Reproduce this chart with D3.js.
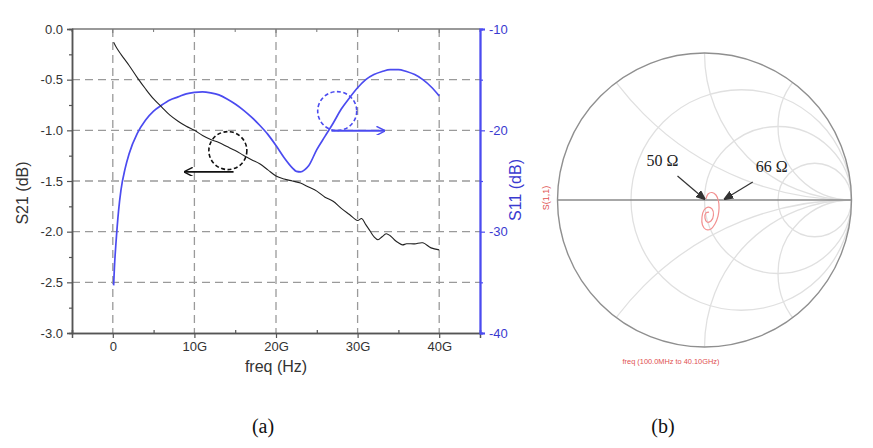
<!DOCTYPE html>
<html><head><meta charset="utf-8">
<script src="https://cdn.jsdelivr.net/npm/d3@7"></script>
<style>html,body{margin:0;padding:0;background:#fff;}svg{display:block;}</style>
</head><body>
<svg id="c" width="873" height="448"></svg>
<script>
// ---------- data ----------
const freqS21 = [0.1,0.5,1,2,3,4,5,6,7,8,9,10,11,12,13,14,15,16,17,18,19,20,21,22,23,24,25,26,27,28,29,30,30.5,31,31.5,32,32.5,33,33.5,34,34.5,35,35.5,36,37,38,39,40];
const s21dB  = [-0.13,-0.19,-0.25,-0.36,-0.48,-0.59,-0.69,-0.77,-0.85,-0.91,-0.96,-1.00,-1.05,-1.09,-1.12,-1.16,-1.20,-1.245,-1.29,-1.33,-1.39,-1.45,-1.48,-1.50,-1.52,-1.56,-1.60,-1.66,-1.70,-1.77,-1.83,-1.89,-1.87,-1.93,-1.99,-2.05,-2.08,-2.05,-2.02,-2.04,-2.08,-2.11,-2.13,-2.12,-2.12,-2.11,-2.16,-2.18];
const freqS11 = [0.1,0.2,0.4,0.7,1,1.5,2,3,4,5,6,7,8,9,10,11,12,13,14,15,16,17,18,19,20,21,22,22.5,23,23.5,24,25,26,27,28,29,30,31,32,33,34,35,36,37,38,39,40];
const s11dB  = [-35.3,-33.5,-31.0,-28.0,-25.9,-23.8,-22.3,-20.3,-19.0,-18.1,-17.5,-17.0,-16.7,-16.4,-16.25,-16.2,-16.3,-16.5,-16.9,-17.4,-18.0,-18.7,-19.5,-20.4,-21.5,-22.7,-23.7,-24.05,-24.1,-23.9,-23.5,-21.9,-20.6,-19.3,-17.9,-16.8,-15.8,-15.0,-14.5,-14.2,-14.0,-14.0,-14.2,-14.5,-15.0,-15.7,-16.6];
const xTicks = [0,10,20,30,40];
const xTickLabels = ["0","10G","20G","30G","40G"];
const yLeftTicks = [0,-0.5,-1,-1.5,-2,-2.5,-3];
const yRightTicks = [-10,-20,-30,-40];
// Smith chart trace of S(1,1) (reflection coefficient, real / imaginary)
const gammaRe = [0.010,0.024,0.051,0.078,0.095,0.099,0.092,0.071,0.044,0.010,-0.014,-0.017,-0.003,0.024,0.051,0.061,0.044,0.017,0.003,0.010,0.031];
const gammaIm = [0.007,0.041,0.051,0.034,-0.007,-0.054,-0.109,-0.163,-0.197,-0.201,-0.170,-0.116,-0.068,-0.048,-0.061,-0.102,-0.143,-0.150,-0.122,-0.088,-0.082];
const smithR = [1/3, 1, 3];
const smithX = [0.5, 1, 2, -0.5, -1, -2];
const markedOhms = [50, 66];
const z0 = 50;

// ---------- setup ----------
const svg = d3.select("#c");
const FONT = "'Liberation Sans', Arial, sans-serif";
const SERIF = "'Liberation Serif','DejaVu Serif',serif";
const gray = "#555", blue = "#4b4bf0", blueTxt = "#3a3ad0";

const x = d3.scaleLinear().domain([-5, 45]).range([72, 480]);
const yL = d3.scaleLinear().domain([-3, 0]).range([333, 29]);
const yR = d3.scaleLinear().domain([-40, -10]).range([333, 29]);

const g = svg.append("g");

// grid
const grid = g.append("g").attr("stroke", "#9a9a9a").attr("stroke-width", 1.3).attr("stroke-dasharray", "8,5");
xTicks.forEach(t => grid.append("line").attr("x1", x(t)).attr("x2", x(t)).attr("y1", yL(0)).attr("y2", yL(-3)));
yLeftTicks.filter(t => t !== 0 && t !== -3).forEach(t => grid.append("line").attr("x1", x(-5)).attr("x2", x(45)).attr("y1", yL(t)).attr("y2", yL(t)));

// top border with ticks
g.append("line").attr("x1", x(-5)).attr("x2", x(45)).attr("y1", yL(0)).attr("y2", yL(0)).attr("stroke", "#777").attr("stroke-width", 1.5);
d3.range(-5, 46, 5).forEach(t => g.append("line").attr("x1", x(t)).attr("x2", x(t)).attr("y1", yL(0)).attr("y2", yL(0) + (t % 10 === 0 ? 4 : 3)).attr("stroke", "#777"));

// bottom axis
const xAx = g.append("g").attr("transform", `translate(0,${yL(-3)})`)
  .call(d3.axisBottom(x).tickValues(xTicks).tickFormat((d, i) => xTickLabels[i]).tickSizeOuter(0).tickSize(5).tickPadding(4));
const xMinor = g.append("g").attr("transform", `translate(0,${yL(-3)})`)
  .call(d3.axisBottom(x).tickValues(d3.range(-5, 46, 10)).tickFormat("").tickSizeOuter(0).tickSize(-3));
[xAx, xMinor].forEach(a => { a.select(".domain").attr("stroke", gray).attr("stroke-width", 1.5); a.selectAll("line").attr("stroke", gray).attr("stroke-width", 1.2); });
xAx.selectAll("text").attr("font-family", FONT).attr("font-size", 13).attr("fill", "#333");

// left axis
const yAx = g.append("g").attr("transform", `translate(${x(-5)},0)`)
  .call(d3.axisLeft(yL).tickValues(yLeftTicks).tickFormat(d => d.toFixed(1)).tickSizeOuter(0).tickSize(5).tickPadding(4));
const yMinor = g.append("g").attr("transform", `translate(${x(-5)},0)`)
  .call(d3.axisLeft(yL).tickValues(d3.range(-2.75, 0, 0.5)).tickFormat("").tickSizeOuter(0).tickSize(3));
[yAx, yMinor].forEach(a => { a.select(".domain").attr("stroke", gray).attr("stroke-width", 1.5); a.selectAll("line").attr("stroke", gray).attr("stroke-width", 1.2); });
yAx.selectAll("text").attr("font-family", FONT).attr("font-size", 13).attr("fill", "#333");

// right axis
const rAx = g.append("g").attr("transform", `translate(${x(45)},0)`)
  .call(d3.axisRight(yR).tickValues(yRightTicks).tickFormat(d => String(d)).tickSizeOuter(0).tickSize(5).tickPadding(4));
const rMinor = g.append("g").attr("transform", `translate(${x(45)},0)`)
  .call(d3.axisRight(yR).tickValues([-15, -25, -35]).tickFormat("").tickSizeOuter(0).tickSize(3));
[rAx, rMinor].forEach(a => { a.select(".domain").attr("stroke", blue).attr("stroke-width", 1.8); a.selectAll("line").attr("stroke", blue).attr("stroke-width", 1.2); });
rAx.selectAll("text").attr("font-family", FONT).attr("font-size", 13).attr("fill", blueTxt);

// axis titles
g.append("text").attr("x", x(20)).attr("y", 372).attr("text-anchor", "middle").attr("font-family", FONT).attr("font-size", 16).attr("fill", "#333").text("freq (Hz)");
g.append("text").attr("transform", `translate(28,${(yL(0) + yL(-3)) / 2 + 12}) rotate(-90)`).attr("text-anchor", "middle").attr("font-family", FONT).attr("font-size", 16).attr("fill", "#333").text("S21 (dB)");
g.append("text").attr("transform", `translate(521,${(yL(0) + yL(-3)) / 2 + 9}) rotate(-90)`).attr("text-anchor", "middle").attr("font-family", FONT).attr("font-size", 16).attr("fill", blueTxt).text("S11 (dB)");

// curves
const s11Data = freqS11.map((f, i) => [f, s11dB[i]]);
const s21Data = freqS21.map((f, i) => [f, s21dB[i]]);
g.append("path").datum(s11Data).attr("fill", "none").attr("stroke", blue).attr("stroke-width", 1.7)
  .attr("d", d3.line().x(d => x(d[0])).y(d => yR(d[1])).curve(d3.curveMonotoneX));
g.append("path").datum(s21Data).attr("fill", "none").attr("stroke", "#222").attr("stroke-width", 1.1)
  .attr("d", d3.line().x(d => x(d[0])).y(d => yL(d[1])).curve(d3.curveCatmullRom));

// annotations (arrows & dashed circles)
const defs = svg.append("defs");
function marker(id, col, filled) {
  defs.append("marker").attr("id", id).attr("viewBox", "0 0 10 10").attr("refX", 9).attr("refY", 5)
    .attr("markerWidth", 9).attr("markerHeight", 9).attr("orient", "auto-start-reverse").attr("markerUnits", "userSpaceOnUse")
    .append("path").attr("d", filled ? "M0,1 L10,5 L0,9 Z" : "M0,0 L10,5 L0,10").attr("fill", filled ? col : "none").attr("stroke", col).attr("stroke-width", 1.6);
}
marker("arrK", "#111", false); marker("arrB", blue, false); marker("arrG", "#333", true);
g.append("circle").attr("cx", x(14.1)).attr("cy", yL(-1.20)).attr("r", 19).attr("fill", "none").attr("stroke", "#111").attr("stroke-width", 1.6).attr("stroke-dasharray", "4,2.5");
g.append("line").attr("x1", x(14.8)).attr("x2", x(8.8)).attr("y1", yL(-1.41)).attr("y2", yL(-1.41)).attr("stroke", "#111").attr("stroke-width", 1.6).attr("marker-end", "url(#arrK)");
g.append("circle").attr("cx", x(27.5)).attr("cy", yR(-18.1)).attr("r", 19.5).attr("fill", "none").attr("stroke", blue).attr("stroke-width", 1.6).attr("stroke-dasharray", "4,2.5");
g.append("line").attr("x1", x(26.8)).attr("x2", x(33.3)).attr("y1", yR(-20.05)).attr("y2", yR(-20.05)).attr("stroke", blue).attr("stroke-width", 2).attr("marker-end", "url(#arrB)");

// ---------- Smith chart ----------
const cx = 704.5, cy = 200, R = 147;
const sx = d3.scaleLinear().domain([-1, 1]).range([cx - R, cx + R]);
const sy = d3.scaleLinear().domain([-1, 1]).range([cy + R, cy - R]);
defs.append("clipPath").attr("id", "unit").append("circle").attr("cx", cx).attr("cy", cy).attr("r", R);
const sg = svg.append("g");
const sgrid = sg.append("g").attr("clip-path", "url(#unit)").attr("fill", "none").attr("stroke", "#e0e0e0").attr("stroke-width", 1.3);
smithR.forEach(r => sgrid.append("circle").attr("cx", sx(r / (1 + r))).attr("cy", sy(0)).attr("r", R / (1 + r)));
smithX.forEach(xv => sgrid.append("circle").attr("cx", sx(1)).attr("cy", sy(1 / xv)).attr("r", R / Math.abs(xv)));
sg.append("line").attr("x1", sx(-1)).attr("x2", sx(1)).attr("y1", sy(0)).attr("y2", sy(0)).attr("stroke", "#8a8a8a").attr("stroke-width", 1.6);
sg.append("circle").attr("cx", cx).attr("cy", cy).attr("r", R).attr("fill", "none").attr("stroke", "#8f8f8f").attr("stroke-width", 1.4);

const gam = gammaRe.map((r, i) => [r, gammaIm[i]]);
sg.append("path").datum(gam).attr("fill", "none").attr("stroke", "#f29090").attr("stroke-width", 1.2)
  .attr("d", d3.line().x(d => sx(d[0])).y(d => sy(d[1])).curve(d3.curveCatmullRom));

// impedance markers
const labelOff = [[-42, -34], [47, -28]];
markedOhms.forEach((ohm, i) => {
  const r = ohm / z0, gr = (r - 1) / (r + 1);
  const tx = sx(gr), ty = sy(0);
  const lx = tx + labelOff[i][0], ly = ty + labelOff[i][1];
  const ax = i === 0 ? lx + 15 : lx - 19, ay = ly + 10;
  sg.append("line").attr("x1", ax).attr("y1", ay).attr("x2", tx).attr("y2", ty - 1).attr("stroke", "#333").attr("stroke-width", 1.2).attr("marker-end", "url(#arrG)");
  sg.append("text").attr("x", lx).attr("y", ly).attr("text-anchor", "middle").attr("font-family", SERIF).attr("font-size", 16).attr("fill", "#222").text(ohm + " Ω");
});

sg.append("text").attr("transform", `translate(549,${cy - 2}) rotate(-90)`).attr("text-anchor", "middle").attr("font-family", FONT).attr("font-size", 9).attr("fill", "#e05050").text("S(1,1)");
sg.append("text").attr("x", 671).attr("y", 364).attr("text-anchor", "middle").attr("font-family", FONT).attr("font-size", 7.4).attr("fill", "#e05050").text("freq (100.0MHz to 40.10GHz)");

// captions
svg.append("text").attr("x", 263).attr("y", 433).attr("text-anchor", "middle").attr("font-family", SERIF).attr("font-size", 20).attr("fill", "#111").text("(a)");
svg.append("text").attr("x", 663).attr("y", 433).attr("text-anchor", "middle").attr("font-family", SERIF).attr("font-size", 20).attr("fill", "#111").text("(b)");
</script>
</body></html>
